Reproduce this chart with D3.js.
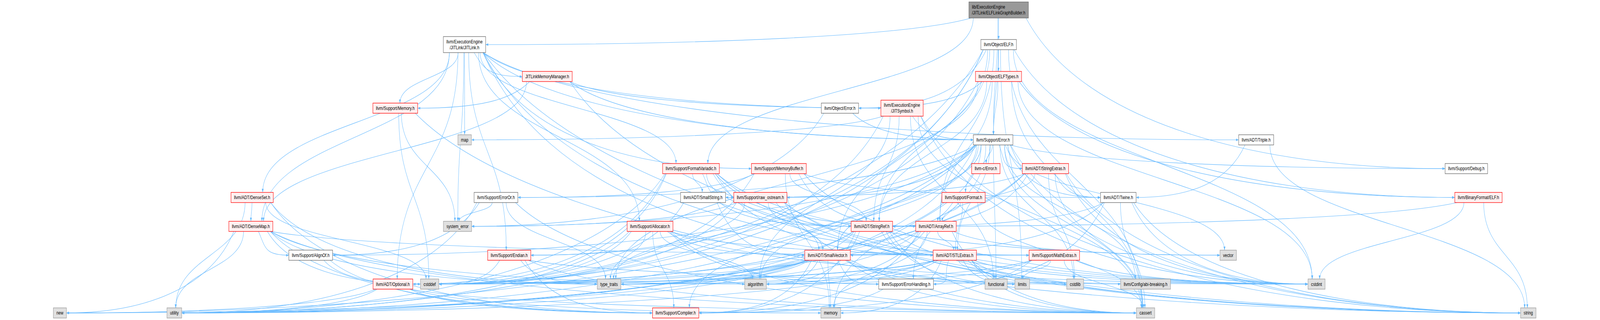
<!DOCTYPE html>
<html>
<head>
<meta charset="utf-8">
<script src="https://cdn.jsdelivr.net/npm/d3@7"></script>
<style>
  html, body { margin: 0; padding: 0; background: #ffffff; overflow: hidden; }
  #my_graph svg { display: block; }
</style>
</head>
<body>
<div id="my_graph"></div>
<script>
// include graph of ELFLinkGraphBuilder.h
var nodeIds = ["root", "jitlink", "elf", "jlmm", "elftypes", "memory", "objerr", "jitsym",
  "map", "error", "triple", "fmtvar", "membuf", "cerror", "strext", "debug",
  "denseset", "erroror", "smallstr", "rawos", "format", "twine", "bfelf",
  "densemap", "syserr", "alloc", "strref", "arrref",
  "alignof", "endian", "smallvec", "stlext", "mathext", "vector",
  "optional", "cstddef", "typetraits", "algorithm", "errhand", "functional", "limits", "cstdlib", "abibreak", "cstdint",
  "new", "utility", "compiler", "memoryh", "cassert", "string"]

var nodeLabels = ["lib/ExecutionEngine\n/JITLink/ELFLinkGraphBuilder.h", "llvm/ExecutionEngine\n/JITLink/JITLink.h",
  "llvm/Object/ELF.h", "JITLinkMemoryManager.h", "llvm/Object/ELFTypes.h", "llvm/Support/Memory.h",
  "llvm/Object/Error.h", "llvm/ExecutionEngine\n/JITSymbol.h",
  "map", "llvm/Support/Error.h", "llvm/ADT/Triple.h", "llvm/Support/FormatVariadic.h", "llvm/Support/MemoryBuffer.h",
  "llvm-c/Error.h", "llvm/ADT/StringExtras.h", "llvm/Support/Debug.h",
  "llvm/ADT/DenseSet.h", "llvm/Support/ErrorOr.h", "llvm/ADT/SmallString.h", "llvm/Support/raw_ostream.h",
  "llvm/Support/Format.h", "llvm/ADT/Twine.h", "llvm/BinaryFormat/ELF.h",
  "llvm/ADT/DenseMap.h", "system_error", "llvm/Support/Allocator.h", "llvm/ADT/StringRef.h", "llvm/ADT/ArrayRef.h",
  "llvm/Support/AlignOf.h", "llvm/Support/Endian.h", "llvm/ADT/SmallVector.h", "llvm/ADT/STLExtras.h",
  "llvm/Support/MathExtras.h", "vector",
  "llvm/ADT/Optional.h", "cstddef", "type_traits", "algorithm", "llvm/Support/ErrorHandling.h", "functional",
  "limits", "cstdlib", "llvm/Config/abi-breaking.h", "cstdint",
  "new", "utility", "llvm/Support/Compiler.h", "memory", "cassert", "string"]

// layer of each node (0 = top)
var nodeRank = [0, 1, 1, 2, 2, 3, 3, 3,
  4, 4, 4, 5, 5, 5, 5, 5,
  6, 6, 6, 6, 6, 6, 6,
  7, 7, 7, 7, 7,
  8, 8, 8, 8, 8, 8,
  9, 9, 9, 9, 9, 9, 9, 9, 9, 9,
  10, 10, 10, 10, 10, 10]

// horizontal order of the layout
var nodeX = [3426, 1593.5, 3426, 1877.5, 3425.5, 1356, 2881.5, 3094.5,
  1594, 3407, 4309.5, 2370.5, 2672, 3382, 3586.5, 5030.5,
  865, 1701.5, 2412, 2608.5, 3305.5, 3836.5, 5072,
  860.5, 1569.5, 2230, 2991, 3211,
  1066, 1747, 2839, 3275.5, 3617, 4213.5,
  1348, 1474, 2089.5, 2592, 3108.5, 3417.5, 3507, 3688.5, 3930, 4516.5,
  205.5, 598, 2318, 2850, 3930, 5243]

// root / plain (all includes shown) / trunc (graph truncated) / sys (system header)
var nodeKind = ["root", "plain", "plain", "trunc", "trunc", "trunc", "plain", "trunc",
  "sys", "plain", "plain", "trunc", "trunc", "trunc", "trunc", "plain",
  "trunc", "plain", "plain", "trunc", "trunc", "plain", "trunc",
  "trunc", "sys", "trunc", "trunc", "trunc",
  "plain", "trunc", "trunc", "trunc", "trunc", "sys",
  "trunc", "sys", "sys", "sys", "plain", "sys", "sys", "sys", "sys", "sys",
  "sys", "sys", "trunc", "sys", "sys", "sys"]

var includes = [
  ["root", ["jitlink", "elf", "debug", "error", "fmtvar"]],
  ["jitlink", ["densemap", "denseset", "optional", "triple", "jlmm", "jitsym", "alloc", "endian", "error",
    "fmtvar", "mathext", "memory", "membuf", "map", "string", "syserr", "stlext"]],
  ["jlmm", ["densemap", "jitsym", "error", "memory", "cstdint"]],
  ["elf", ["arrref", "smallvec", "strref", "bfelf", "elftypes", "objerr", "endian", "error",
    "cassert", "cstddef", "cstdint", "limits", "utility"]],
  ["elftypes", ["arrref", "strref", "bfelf", "objerr", "endian", "error", "cassert", "cstdint", "typetraits"]],
  ["memory", ["string", "syserr", "cstddef"]],
  ["objerr", ["error", "syserr"]],
  ["jitsym", ["algorithm", "cassert", "cstddef", "cstdint", "functional", "map", "string", "strref", "error"]],
  ["error", ["cerror", "stlext", "smallvec", "strext", "twine", "abibreak", "alignof", "compiler", "debug",
    "errhand", "erroror", "format", "rawos", "algorithm", "cassert", "cstdint", "cstdlib", "functional",
    "memoryh", "new", "string", "syserr", "typetraits", "utility", "vector"]],
  ["triple", ["twine", "string"]],
  ["fmtvar", ["arrref", "optional", "stlext", "smallstr", "smallvec", "strref", "rawos", "cstddef", "string", "utility", "vector"]],
  ["membuf", ["arrref", "strref", "twine", "erroror", "cstddef", "cstdint", "memoryh"]],
  ["strext", ["smallstr", "twine", "arrref", "strref", "cassert", "cstddef", "cstdint", "cstdlib", "string", "utility"]],
  ["denseset", ["densemap", "compiler", "typetraits", "cstddef", "utility"]],
  ["erroror", ["alignof", "syserr", "cassert", "typetraits", "utility"]],
  ["smallstr", ["smallvec", "strref", "cstddef"]],
  ["rawos", ["smallvec", "strref", "cassert", "cstddef", "cstdint", "string", "syserr", "typetraits"]],
  ["format", ["arrref", "stlext", "strref", "cassert", "utility"]],
  ["twine", ["smallvec", "strref", "errhand", "cassert", "cstdint", "string"]],
  ["bfelf", ["strref", "cstdint", "string"]],
  ["densemap", ["alignof", "compiler", "mathext", "typetraits", "algorithm", "cassert", "cstddef", "new", "utility"]],
  ["alloc", ["smallvec", "compiler", "errhand", "mathext", "algorithm", "cassert", "cstddef", "cstdint", "typetraits", "utility"]],
  ["strref", ["stlext", "compiler", "algorithm", "cassert", "cstddef", "limits", "string", "typetraits", "utility"]],
  ["arrref", ["smallvec", "stlext", "compiler", "algorithm", "cassert", "cstddef", "memoryh", "typetraits", "vector"]],
  ["alignof", ["compiler", "cstddef"]],
  ["endian", ["compiler", "cassert", "cstddef", "cstdint", "typetraits"]],
  ["smallvec", ["compiler", "errhand", "algorithm", "cassert", "cstddef", "cstdlib", "limits", "memoryh", "new", "typetraits", "utility"]],
  ["stlext", ["optional", "errhand", "abibreak", "algorithm", "cassert", "cstddef", "cstdint", "cstdlib",
    "functional", "limits", "memoryh", "typetraits", "utility"]],
  ["mathext", ["compiler", "algorithm", "cassert", "cstdint", "limits", "typetraits"]],
  ["optional", ["compiler", "new", "utility", "cassert", "memoryh"]],
  ["errhand", ["compiler"]]
]

var width = 5489, height = 818

var x = d3.scaleLinear().domain([0, width]).range([0, width])
var y = d3.scaleLinear()
  .domain([0, 1, 2, 3, 4, 5, 10])
  .range([25.5, 114, 195.5, 276.5, 357.5, 431, 800])

var fillOf = {root: "#999999", plain: "#ffffff", trunc: "#fff0f0", sys: "#e0e0e0"}
var lineOf = {root: "#666666", plain: "#666666", trunc: "#ff0000", sys: "#999999"}

// drawing is laid out in a 5489x818 box and stretched over the whole window
var svg = d3.select("#my_graph")
  .append("svg")
    .attr("viewBox", "0 0 " + width + " " + height)
    .attr("preserveAspectRatio", "none")
    .style("width", "100vw")
    .style("height", "100vh")
    .style("font-family", "'Liberation Sans', Arial, Helvetica, sans-serif")
    .style("font-size", "13px")

svg.append("defs").append("marker")
    .attr("id", "arrow")
    .attr("viewBox", "0 -5 10 10")
    .attr("refX", 10)
    .attr("refY", 0)
    .attr("markerUnits", "userSpaceOnUse")
    .attr("markerWidth", 11)
    .attr("markerHeight", 9)
    .attr("orient", "auto")
  .append("path")
    .attr("d", "M0,-3.6L10,0L0,3.6Z")
    .attr("fill", "#63b8ff")

// measure labels to size the boxes
var probe = svg.append("text")
var nodes = nodeIds.map(function(id, i) {
  var lines = nodeLabels[i].split("\n")
  var tw = d3.max(lines, function(l) { probe.text(l); return probe.node().getComputedTextLength() })
  var w = tw + 21, h = lines.length > 1 ? 41 : 26
  return {id: id, lines: lines, kind: nodeKind[i], cx: x(nodeX[i]), cy: y(nodeRank[i]), w: w, h: h, rank: nodeRank[i]}
})
probe.remove()
var byId = {}
nodes.forEach(function(n) { byId[n.id] = n })

var links = []
includes.forEach(function(row) {
  row[1].forEach(function(t) { links.push({source: byId[row[0]], target: byId[t]}) })
})

function edgePath(d) {
  var s = d.source, t = d.target
  var dx = t.cx - s.cx
  var sy = s.cy + s.h / 2, ty = t.cy - t.h / 2
  var gap = ty - sy
  var dir = dx >= 0 ? 1 : -1
  if (Math.abs(dx) > 3.2 * gap) {
    // long sideways edge: leave near the bottom corner, come in at the side
    var sx = s.cx + dir * (s.w / 2 - 8) * Math.tanh(Math.abs(dx) / 500)
    var ex = t.cx - dir * t.w / 2, ey = t.cy
    var ad = Math.abs(dx)
    return "M" + sx + "," + sy +
      "C" + (sx + dir * ad * 0.12) + "," + (sy + (ey - sy) * 0.7) +
      " " + (ex - dir * ad * 0.4) + "," + ey +
      " " + ex + "," + ey
  }
  var sx2 = s.cx + (s.w / 2 - 6) * Math.tanh(dx / 700)
  var ex2 = t.cx - (t.w / 2 - 6) * Math.tanh(dx / 700) * 0.7
  return "M" + sx2 + "," + sy +
    "C" + sx2 + "," + (sy + gap * 0.5) +
    " " + ex2 + "," + (ty - gap * 0.5) +
    " " + ex2 + "," + ty
}

svg.append("g")
  .selectAll("path")
  .data(links)
  .join("path")
    .attr("fill", "none")
    .attr("stroke", "#63b8ff")
    .attr("stroke-width", 1.1)
    .attr("marker-end", "url(#arrow)")
    .attr("d", edgePath)

var node = svg.append("g")
  .selectAll("g")
  .data(nodes)
  .join("g")
    .attr("transform", function(d) { return "translate(" + (d.cx - d.w / 2) + "," + (d.cy - d.h / 2) + ")" })

node.append("rect")
    .attr("width", function(d) { return d.w })
    .attr("height", function(d) { return d.h })
    .attr("fill", function(d) { return fillOf[d.kind] })
    .attr("stroke", function(d) { return lineOf[d.kind] })
    .attr("stroke-width", 1.3)

node.each(function(d) {
  var g = d3.select(this)
  var left = d.kind == "root"
  d.lines.forEach(function(l, k) {
    g.append("text")
      .attr("x", left ? 10.5 : d.w / 2)
      .attr("y", d.h / 2 + 4.5 + (k - (d.lines.length - 1) / 2) * 15)
      .attr("text-anchor", left ? "start" : "middle")
      .attr("fill", "#000000")
      .text(l)
  })
})
</script>
</body>
</html>
